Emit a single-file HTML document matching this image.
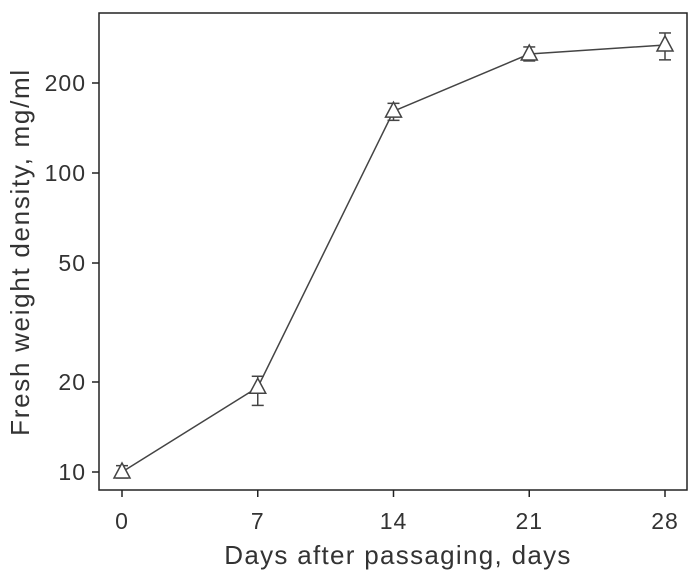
<!DOCTYPE html>
<html><head><meta charset="utf-8"><style>
body{margin:0;background:#fff}
svg text{font-family:"Liberation Sans Narrow","Liberation Sans",sans-serif;fill:#333}
</style></head><body>
<svg id="chart" width="698" height="578" xmlns="http://www.w3.org/2000/svg"></svg>
<script>
const days=[0,7,14,21,28];
const means=[10,19.2,161,250,268];
const upper=[10.5,20.9,171,264,294];
const lower=[9.55,16.7,150,237,239];
const yTicks=[10,20,50,100,200];
const xTicks=[0,7,14,21,28];
const NS="http://www.w3.org/2000/svg";
const svg=document.getElementById('chart');
const L=99,R=687,T=13,B=490;
const x=d=>122+(d-0)*(665-122)/28;
const y=v=>472-Math.log10(v/10)*299;
function mk(tag,attrs,parent){const e=document.createElementNS(NS,tag);for(const k in attrs)e.setAttribute(k,attrs[k]);(parent||svg).appendChild(e);return e;}
const frame=mk('rect',{x:L,y:T,width:R-L,height:B-T,fill:'none',stroke:'#222','stroke-width':1.5});


yTicks.forEach(v=>{
  const t=mk('line',{x1:92,x2:L,y1:y(v),y2:y(v),stroke:'#222','stroke-width':1.5});
  
  
  const l=mk('text',{x:86,y:y(v)+8,'text-anchor':'end','font-size':23,'letter-spacing':1});
  l.textContent=v;
  
  
});
xTicks.forEach(v=>{
  const t=mk('line',{x1:x(v),x2:x(v),y1:B,y2:B+7,stroke:'#222','stroke-width':1.5});
  
  
  const l=mk('text',{x:x(v),y:529,'text-anchor':'middle','font-size':23,'letter-spacing':1});
  l.textContent=v;
  
  
});
const xt=mk('text',{x:398,y:564,'text-anchor':'middle','font-size':26,'letter-spacing':1.3});
xt.textContent='Days after passaging, days';


const yt=mk('text',{x:29,y:252,'text-anchor':'middle','font-size':26,'letter-spacing':1.7,transform:'rotate(-90 29 252)'});
yt.textContent='Fresh weight density, mg/ml';


const line=mk('polyline',{points:days.map((d,i)=>x(d)+','+y(means[i])).join(' '),fill:'none',stroke:'#444','stroke-width':1.5});


days.forEach((d,i)=>{
  const g=mk('g',{stroke:'#444','stroke-width':1.5,fill:'none'});
  
  
  const cx=x(d),cy=y(means[i]),yu=y(upper[i]),yl=y(lower[i]);
  mk('line',{x1:cx,x2:cx,y1:yu,y2:yl},g);
  mk('line',{x1:cx-6,x2:cx+6,y1:yu,y2:yu},g);
  mk('line',{x1:cx-6,x2:cx+6,y1:yl,y2:yl},g);
  mk('polygon',{points:`${cx},${cy-9} ${cx-8},${cy+6} ${cx+8},${cy+6}`,fill:'#fff'},g);
});
</script>
</body></html>
